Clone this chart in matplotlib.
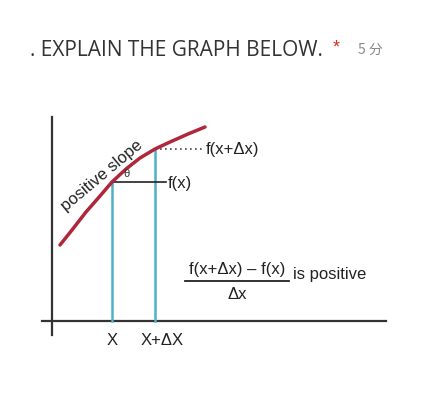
import matplotlib.pyplot as plt

plt.rcParams['font.family'] = ['Liberation Sans', 'Noto Sans CJK SC', 'DejaVu Sans']

# curve (pixel coordinates)
curve_x = [60, 72, 86, 100, 112, 126, 140, 155, 170, 188, 205]
curve_y = [246, 231, 213, 197, 183, 170, 159, 150, 143, 135, 128]
x0, y0 = 112, 183
x1, y1 = 155, 150
axis_y = 322

fig = plt.figure(figsize=(4.33, 4.14), dpi=100)
ax = fig.add_axes([0, 0, 1, 1])
ax.set_xlim(0, 433)
ax.set_ylim(414, 0)
ax.axis('off')

ax.text(30, 50, '. EXPLAIN THE GRAPH BELOW.', fontsize=15, color='#333333',
        family=['Open Sans', 'DejaVu Sans'], va='center')
ax.text(333, 48, '*', color='#d93025', fontsize=13, va='center')
ax.text(358, 50, '5 分', color='#888888', fontsize=10, va='center',
        family=['Noto Sans CJK SC'])

# axes
ax.plot([52, 52], [118, 336], color='#333333', lw=1.6)
ax.plot([42, 386], [axis_y, axis_y], color='#333333', lw=1.6)

# vertical lines
ax.plot([x0, x0], [y0, axis_y], color='#4fb0c6', lw=1.8)
ax.plot([x1, x1], [y1, axis_y], color='#4fb0c6', lw=1.8)
# horizontal and dotted
ax.plot([x0, 166], [y0, y0], color='#222222', lw=1.2)
ax.plot([x1, 205], [y1, y1], color='#444444', lw=1.2, ls=(0, (1, 2)))

ax.plot(curve_x, curve_y, color='#b0263a', lw=2.5, solid_capstyle='round')

ax.text(127, 174, 'θ', fontsize=8, ha='center', va='center', color='#333333')
ax.text(66, 212, 'positive slope', fontsize=12, rotation=40, rotation_mode='anchor',
        ha='left', va='baseline', color='#222222')
ax.text(206, 150, 'f(x+Δx)', fontsize=12, va='center', color='#222222')
ax.text(168, 184, 'f(x)', fontsize=12, va='center', color='#222222')

ax.text(237, 270, 'f(x+Δx) – f(x)', fontsize=12, ha='center', va='center', color='#222222')
ax.plot([185, 289], [282, 282], color='#222222', lw=1.3)
ax.text(237, 295, 'Δx', fontsize=12, ha='center', va='center', color='#222222')
ax.text(293, 275, 'is positive', fontsize=12, va='center', color='#222222')

ax.text(x0, 341, 'X', fontsize=12, ha='center', va='center', color='#222222')
ax.text(162, 341, 'X+ΔX', fontsize=12, ha='center', va='center', color='#222222')

fig.savefig('out.png', dpi=100)
